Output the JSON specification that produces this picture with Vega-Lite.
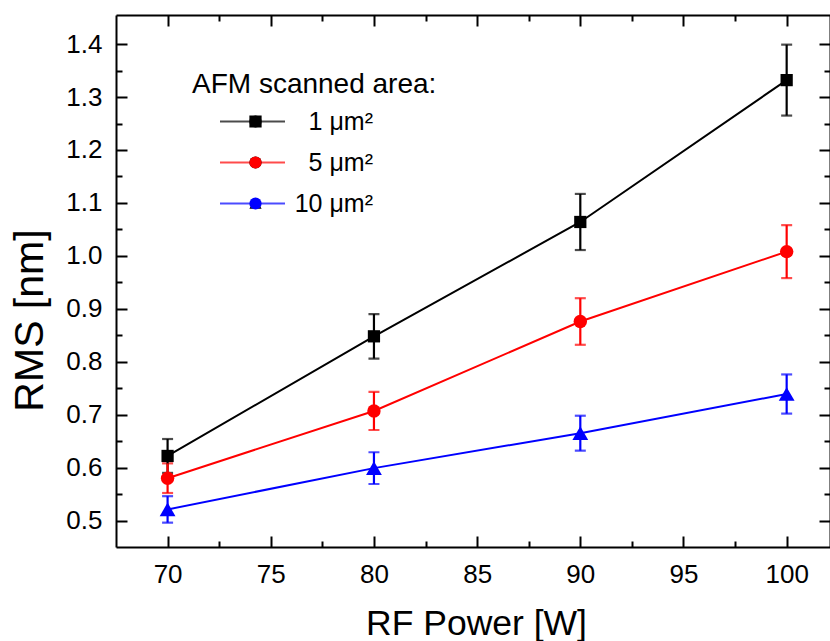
{
  "$schema": "https://vega.github.io/schema/vega-lite/v6.json",
  "width": 714,
  "height": 532,
  "autosize": {"type": "none"},
  "padding": {"left": 116, "top": 15, "right": 0, "bottom": 94},
  "background": "white",
  "config": {
    "view": {"stroke": null},
    "font": "Liberation Sans",
    "axis": {
      "grid": false,
      "labelFont": "Liberation Sans",
      "labelFontSize": 26,
      "labelColor": "black",
      "labelOverlap": false,
      "labelFlush": false,
      "titleFont": "Liberation Sans",
      "titleFontSize": 35,
      "titleFontWeight": "normal",
      "titleColor": "black",
      "tickColor": "black",
      "tickWidth": 2,
      "domainColor": "black",
      "domainWidth": 2
    }
  },
  "data": {
    "values": [
      {"series": "1 μm²", "power": 70, "rms": 0.622, "err": 0.032},
      {"series": "1 μm²", "power": 80, "rms": 0.848, "err": 0.042},
      {"series": "1 μm²", "power": 90, "rms": 1.064, "err": 0.053},
      {"series": "1 μm²", "power": 100, "rms": 1.332, "err": 0.067},
      {"series": "5 μm²", "power": 70, "rms": 0.580, "err": 0.028},
      {"series": "5 μm²", "power": 80, "rms": 0.707, "err": 0.036},
      {"series": "5 μm²", "power": 90, "rms": 0.876, "err": 0.044},
      {"series": "5 μm²", "power": 100, "rms": 1.008, "err": 0.050},
      {"series": "10 μm²", "power": 70, "rms": 0.521, "err": 0.025},
      {"series": "10 μm²", "power": 80, "rms": 0.599, "err": 0.030},
      {"series": "10 μm²", "power": 90, "rms": 0.665, "err": 0.033},
      {"series": "10 μm²", "power": 100, "rms": 0.739, "err": 0.037}
    ]
  },
  "layer": [
    {
      "mark": {"type": "line", "strokeWidth": 2},
      "encoding": {
        "x": {
          "field": "power", "type": "quantitative",
          "scale": {"domain": [67.5, 102.1], "nice": false, "zero": false},
          "axis": {
            "orient": "bottom", "values": [70, 75, 80, 85, 90, 95, 100],
            "title": "RF Power [W]", "tickSize": -11, "labelPadding": 25,
            "titleX": 360, "titleY": 87, "titleBaseline": "alphabetic", "titleFontSize": 35.5
          }
        },
        "y": {
          "field": "rms", "type": "quantitative",
          "scale": {"domain": [0.45, 1.455], "nice": false, "zero": false},
          "axis": {
            "orient": "left", "values": [0.5, 0.6, 0.7, 0.8, 0.9, 1.0, 1.1, 1.2, 1.3, 1.4],
            "format": ".1f", "title": "RMS [nm]", "tickSize": -11, "labelPadding": 25,
            "titleX": -74, "titleY": 305, "titleAngle": 270, "titleBaseline": "alphabetic", "titleFontSize": 41
          }
        },
        "color": {
          "field": "series", "type": "nominal",
          "scale": {"domain": ["1 μm²", "5 μm²", "10 μm²"], "range": ["#000000", "#ff0000", "#0000ff"]},
          "legend": {
            "title": "AFM scanned area:",
            "orient": "none",
            "legendX": 76,
            "legendY": 56,
            "padding": 0,
            "titleFont": "Liberation Sans",
            "titleFontSize": 28,
            "titleFontWeight": "normal",
            "titleColor": "black",
            "titleLimit": 500,
            "titlePadding": 10,
            "labelFont": "Liberation Sans",
            "labelFontSize": 25,
            "labelColor": "black",
            "labelAlign": "right",
            "symbolType": "stroke",
            "symbolSize": 4225,
            "symbolStrokeWidth": 2,
            "clipHeight": 25,
            "symbolOffset": 27,
            "labelOffset": 87,
            "rowPadding": 15
          }
        }
      }
    },
    {
      "mark": {"type": "errorbar", "ticks": {"size": 11, "thickness": 2.2}, "rule": {"strokeWidth": 2.2}, "thickness": 2.2},
      "encoding": {
        "x": {"field": "power", "type": "quantitative", "axis": null},
        "y": {"field": "rms", "type": "quantitative", "axis": null},
        "yError": {"field": "err"},
        "color": {"field": "series", "type": "nominal"}
      }
    },
    {
      "transform": [{"filter": {"field": "series", "equal": "1 μm²"}}],
      "mark": {"type": "point", "filled": true, "opacity": 1, "shape": "square", "size": 150},
      "encoding": {
        "x": {"field": "power", "type": "quantitative", "axis": null},
        "y": {"field": "rms", "type": "quantitative", "axis": null},
        "color": {"field": "series", "type": "nominal"}
      }
    },
    {
      "transform": [{"filter": {"field": "series", "equal": "5 μm²"}}],
      "mark": {"type": "point", "filled": true, "opacity": 1, "shape": "circle", "size": 180},
      "encoding": {
        "x": {"field": "power", "type": "quantitative", "axis": null},
        "y": {"field": "rms", "type": "quantitative", "axis": null},
        "color": {"field": "series", "type": "nominal"}
      }
    },
    {
      "transform": [{"filter": {"field": "series", "equal": "10 μm²"}}],
      "mark": {"type": "point", "filled": true, "opacity": 1, "shape": "triangle-up", "size": 250},
      "encoding": {
        "x": {"field": "power", "type": "quantitative", "axis": null},
        "y": {"field": "rms", "type": "quantitative", "axis": null},
        "color": {"field": "series", "type": "nominal"}
      }
    },
    {
      "mark": {"type": "point", "filled": true, "opacity": 0, "strokeWidth": 0},
      "encoding": {
        "x": {"field": "power", "type": "quantitative", "axis": null},
        "y": {"field": "rms", "type": "quantitative", "axis": null},
        "fill": {
          "field": "series", "type": "nominal",
          "sort": ["1 μm²", "5 μm²", "10 μm²"],
          "scale": {"range": ["#000000", "#ff0000", "#0000ff"]},
          "legend": {
            "title": null,
            "orient": "none",
            "legendX": 76,
            "legendY": 94,
            "padding": 0,
            "labelFont": "Liberation Sans",
            "labelFontSize": 25,
            "labelOpacity": 0,
            "symbolSize": 150,
            "symbolStrokeWidth": 0,
            "symbolOpacity": 1,
            "clipHeight": 25,
            "symbolOffset": 51,
            "rowPadding": 15
          }
        },
        "shape": {
          "field": "series", "type": "nominal",
          "sort": ["1 μm²", "5 μm²", "10 μm²"],
          "scale": {"range": ["square", "circle", "triangle-up"]},
          "legend": {
            "title": null,
            "orient": "none",
            "legendX": 76,
            "legendY": 94,
            "padding": 0,
            "labelFont": "Liberation Sans",
            "labelFontSize": 25,
            "labelOpacity": 0,
            "symbolSize": 150,
            "symbolStrokeWidth": 0,
            "symbolOpacity": 1,
            "clipHeight": 25,
            "symbolOffset": 51,
            "rowPadding": 15
          }
        }
      }
    },
    {
      "mark": {"type": "point", "opacity": 0},
      "encoding": {
        "x": {"field": "power", "type": "quantitative",
          "axis": {"orient": "bottom", "values": [72.5, 77.5, 82.5, 87.5, 92.5, 97.5], "labels": false, "domain": false, "title": null, "tickSize": -6}}
      }
    },
    {
      "mark": {"type": "point", "opacity": 0},
      "encoding": {
        "x": {"field": "power", "type": "quantitative",
          "axis": {"orient": "top", "values": [70, 75, 80, 85, 90, 95, 100], "labels": false, "domain": true, "title": null, "tickSize": -11}}
      }
    },
    {
      "mark": {"type": "point", "opacity": 0},
      "encoding": {
        "x": {"field": "power", "type": "quantitative",
          "axis": {"orient": "top", "values": [72.5, 77.5, 82.5, 87.5, 92.5, 97.5], "labels": false, "domain": false, "title": null, "tickSize": -6}}
      }
    },
    {
      "mark": {"type": "point", "opacity": 0},
      "encoding": {
        "y": {"field": "rms", "type": "quantitative",
          "axis": {"orient": "left", "values": [0.55, 0.65, 0.75, 0.85, 0.95, 1.05, 1.15, 1.25, 1.35], "labels": false, "domain": false, "title": null, "tickSize": -6}}
      }
    },
    {
      "mark": {"type": "point", "opacity": 0},
      "encoding": {
        "y": {"field": "rms", "type": "quantitative",
          "axis": {"orient": "right", "values": [0.5, 0.6, 0.7, 0.8, 0.9, 1.0, 1.1, 1.2, 1.3, 1.4], "labels": false, "domain": true, "title": null, "tickSize": -11}}
      }
    },
    {
      "mark": {"type": "point", "opacity": 0},
      "encoding": {
        "y": {"field": "rms", "type": "quantitative",
          "axis": {"orient": "right", "values": [0.55, 0.65, 0.75, 0.85, 0.95, 1.05, 1.15, 1.25, 1.35], "labels": false, "domain": false, "title": null, "tickSize": -6}}
      }
    }
  ],
  "resolve": {
    "axis": {"x": "independent", "y": "independent"}
  }
}
